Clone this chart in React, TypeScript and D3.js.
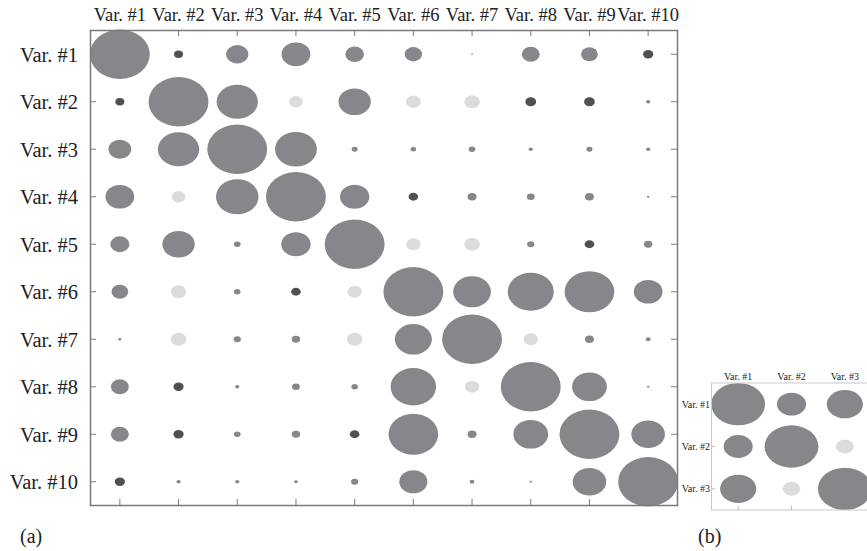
import React from "react";
import * as d3 from "d3";

const VARS = ["Var. #1", "Var. #2", "Var. #3", "Var. #4", "Var. #5", "Var. #6", "Var. #7", "Var. #8", "Var. #9", "Var. #10"];

// relative bubble size (|correlation|-like), row by row
const SIZES: number[][] = [
  [1.0, 0.15, 0.37, 0.48, 0.31, 0.29, 0.03, 0.30, 0.28, 0.17],
  [0.15, 1.0, 0.69, 0.23, 0.54, 0.25, 0.26, 0.18, 0.18, 0.07],
  [0.38, 0.69, 1.0, 0.70, 0.10, 0.09, 0.11, 0.07, 0.10, 0.07],
  [0.48, 0.23, 0.71, 1.0, 0.49, 0.16, 0.15, 0.13, 0.15, 0.04],
  [0.32, 0.54, 0.11, 0.49, 1.0, 0.24, 0.26, 0.12, 0.16, 0.14],
  [0.28, 0.26, 0.11, 0.16, 0.24, 1.0, 0.63, 0.77, 0.83, 0.48],
  [0.05, 0.26, 0.12, 0.14, 0.26, 0.62, 1.0, 0.24, 0.15, 0.08],
  [0.30, 0.17, 0.07, 0.13, 0.11, 0.76, 0.24, 1.0, 0.58, 0.04],
  [0.30, 0.17, 0.11, 0.14, 0.16, 0.83, 0.15, 0.58, 1.0, 0.56],
  [0.17, 0.07, 0.07, 0.06, 0.12, 0.47, 0.08, 0.04, 0.56, 1.0],
];

// shade class: m = medium gray, d = dark gray, l = light gray
const SHADES: string[] = [
  "mdmmmmmmmd",
  "dmmlmllddm",
  "mmmmmmmmmm",
  "mlmmmdmmmm",
  "mmmmmllmdm",
  "mlmdlmmmmm",
  "mlmmlmmlmm",
  "mdmmmmlmmm",
  "mdmmdmmmmm",
  "dmmmmmmmmm",
];

const VARS_B = ["Var. #1", "Var. #2", "Var. #3"];
const SIZES_B: number[][] = [
  [1.0, 0.54, 0.67],
  [0.54, 1.0, 0.33],
  [0.67, 0.33, 1.0],
];
const SHADES_B: string[] = ["mmm", "mml", "mlm"];

const COLORS: Record<string, string> = { m: "#86878b", d: "#505053", l: "#dcdcdc" };

const FONT = "'Liberation Serif', 'DejaVu Serif', serif";

export default function App() {
  const x = d3.scaleBand<string>().domain(VARS).range([90.5, 677.5]);
  const y = d3.scaleBand<string>().domain(VARS).range([30.5, 505.5]);
  const bw = x.bandwidth();
  const bh = y.bandwidth();

  const xb = d3.scaleBand<string>().domain(VARS_B).range([711.5, 871.5]);
  const yb = d3.scaleBand<string>().domain(VARS_B).range([383, 510]);
  const bwb = xb.bandwidth();
  const bhb = yb.bandwidth();

  const cells: { r: number; c: number }[] = [];
  VARS.forEach((_, r) => VARS.forEach((__, c) => cells.push({ r, c })));
  const cellsB: { r: number; c: number }[] = [];
  VARS_B.forEach((_, r) => VARS_B.forEach((__, c) => cellsB.push({ r, c })));

  const axisColor = "#7a7a7a";

  return (
    <svg width={867} height={551} style={{ position: "absolute", left: 0, top: 0, background: "#fff", fontFamily: FONT }}>
      {/* Panel (a) ticks */}
      {VARS.map((v) => {
        const cx = (x(v) as number) + bw / 2;
        return (
          <g key={"tx" + v} stroke={axisColor} strokeWidth={1}>
            <line x1={cx} x2={cx} y1={30.5} y2={36} />
            <line x1={cx} x2={cx} y1={505.5} y2={499} />
          </g>
        );
      })}
      {VARS.map((v) => {
        const cy = (y(v) as number) + bh / 2;
        return (
          <g key={"ty" + v} stroke={axisColor} strokeWidth={1}>
            <line x1={90.5} x2={96} y1={cy} y2={cy} />
            <line x1={677.5} x2={671} y1={cy} y2={cy} />
          </g>
        );
      })}
      {/* Panel (a) bubbles */}
      {cells.map(({ r, c }) => {
        const s = SIZES[r][c];
        return (
          <ellipse
            key={`a${r}-${c}`}
            cx={(x(VARS[c]) as number) + bw / 2}
            cy={(y(VARS[r]) as number) + bh / 2}
            rx={s * bw * 0.51}
            ry={s * bh * 0.52}
            fill={COLORS[SHADES[r][c]]}
          />
        );
      })}
      <rect x={90.5} y={30.5} width={587} height={475} fill="none" stroke={axisColor} strokeWidth={1.5} />
      {/* Panel (a) labels */}
      {VARS.map((v) => (
        <text key={"lx" + v} x={(x(v) as number) + bw / 2} y={20.5} textAnchor="middle" fontSize={18.5} fill="#222">
          {v}
        </text>
      ))}
      {VARS.map((v) => (
        <text key={"ly" + v} x={78} y={(y(v) as number) + bh / 2 + 7.3} textAnchor="end" fontSize={20.5} fill="#222">
          {v}
        </text>
      ))}
      <text x={20} y={543} fontSize={20} fill="#222">(a)</text>

      {/* Panel (b) */}
      {VARS_B.map((v) => {
        const cx = (xb(v) as number) + bwb / 2;
        return <line key={"btx" + v} x1={cx} x2={cx} y1={510} y2={506} stroke="#bbb" strokeWidth={1} />;
      })}
      {VARS_B.map((v) => {
        const cy = (yb(v) as number) + bhb / 2;
        return <line key={"bty" + v} x1={711.5} x2={715} y1={cy} y2={cy} stroke="#bbb" strokeWidth={1} />;
      })}
      {cellsB.map(({ r, c }) => {
        const s = SIZES_B[r][c];
        return (
          <ellipse
            key={`b${r}-${c}`}
            cx={(xb(VARS_B[c]) as number) + bwb / 2}
            cy={(yb(VARS_B[r]) as number) + bhb / 2}
            rx={s * bwb * 0.505}
            ry={s * bhb * 0.5}
            fill={COLORS[SHADES_B[r][c]]}
          />
        );
      })}
      <rect x={711.5} y={383} width={160} height={127} fill="none" stroke="#c8c8c8" strokeWidth={1} />
      {VARS_B.map((v) => (
        <text key={"blx" + v} x={(xb(v) as number) + bwb / 2} y={380} textAnchor="middle" fontSize={10} fill="#222">
          {v}
        </text>
      ))}
      {VARS_B.map((v) => (
        <text key={"bly" + v} x={710} y={(yb(v) as number) + bhb / 2 + 3.5} textAnchor="end" fontSize={10} fill="#222">
          {v}
        </text>
      ))}
      <text x={698} y={543} fontSize={20} fill="#222">(b)</text>
    </svg>
  );
}
